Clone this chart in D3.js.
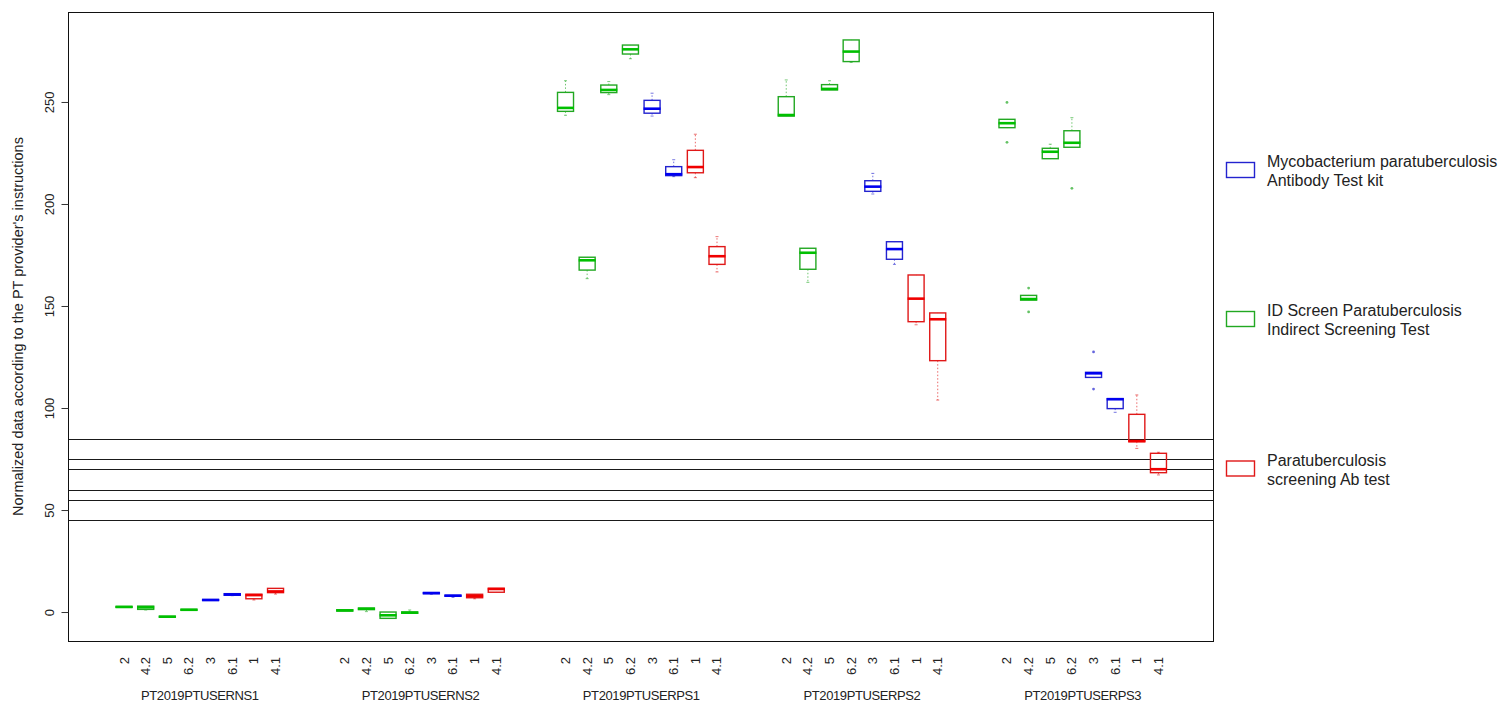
<!DOCTYPE html>
<html>
<head>
<meta charset="utf-8">
<script src="https://cdn.jsdelivr.net/npm/d3@7"></script>
<style>
  body { margin: 0; background: #fff; }
  svg { display: block; }
  text { font-family: "Liberation Sans", Arial, sans-serif; fill: #222; }
</style>
</head>
<body>
<svg id="chart" width="1507" height="702"></svg>
<script>
// PT panels and the assays run on each of them
const panels = ["PT2019PTUSERNS1", "PT2019PTUSERNS2", "PT2019PTUSERPS1", "PT2019PTUSERPS2", "PT2019PTUSERPS3"];
const assays = ["2", "4.2", "5", "6.2", "3", "6.1", "1", "4.1"];
// kit used by each assay (index into kits)
const assayKit = [1, 1, 1, 1, 0, 0, 2, 2];
const kits = [
  ["Mycobacterium paratuberculosis", "Antibody Test kit"],
  ["ID Screen Paratuberculosis", "Indirect Screening Test"],
  ["Paratuberculosis", "screening Ab test"]
];
const kitColors = ["#2323cf", "#22a822", "#e01818"];
const medianColors = ["#0000f0", "#00c000", "#f00000"];

// cut-off levels of the kits
const cutoffs = [85, 75, 70, 60, 55, 45];
const yTicks = [0, 50, 100, 150, 200, 250];

// per assay: [lower whisker, Q1, median, Q3, upper whisker]
const statsNS1 = [
  [2.3, 2.3, 2.5, 2.7, 2.7],
  [1.0, 1.3, 2.3, 2.9, 2.9],
  [-2.5, -2.5, -2.3, -2.1, -2.1],
  [0.9, 0.9, 1.1, 1.3, 1.3],
  [5.7, 5.7, 5.9, 6.1, 6.1],
  [8.0, 8.2, 8.6, 9.0, 9.0],
  [5.9, 6.5, 8.3, 8.7, 8.7],
  [8.8, 9.5, 10.1, 11.6, 11.6]
];
const statsNS2 = [
  [0.5, 0.5, 0.8, 1.1, 1.1],
  [0.2, 1.2, 1.6, 1.9, 1.9],
  [-3.1, -3.1, -1.6, 0.0, 0.0],
  [-0.6, -0.6, -0.3, 0.0, 1.0],
  [8.7, 9.0, 9.3, 9.5, 9.5],
  [7.2, 7.8, 8.0, 8.2, 8.2],
  [6.5, 7.0, 7.8, 8.7, 8.7],
  [9.7, 9.7, 11.3, 11.6, 11.6]
];
const statsPS1 = [
  [243.5, 245.4, 247.1, 254.7, 260.4],
  [163.4, 167.6, 172.4, 173.9, 173.9],
  [253.6, 254.6, 255.9, 258.3, 260.0],
  [271.2, 273.5, 275.8, 277.9, 277.9],
  [243.1, 244.5, 246.7, 250.8, 254.3],
  [213.4, 213.9, 214.6, 218.3, 221.7],
  [212.9, 215.3, 218.1, 226.3, 234.2],
  [166.7, 170.4, 174.4, 179.1, 184.0]
];
const statsPS2 = [
  [243.1, 243.1, 243.6, 252.6, 260.8],
  [161.6, 168.0, 176.1, 178.3, 178.3],
  [255.9, 255.9, 256.4, 258.5, 260.4],
  [269.4, 269.8, 274.7, 280.4, 280.4],
  [204.9, 206.2, 208.5, 211.4, 215.0],
  [170.4, 172.9, 177.9, 181.5, 181.5],
  [140.8, 142.3, 153.6, 165.2, 165.2],
  [103.9, 123.2, 143.5, 146.6, 146.6]
];
const statsPS3 = [
  [237.4, 237.4, 239.6, 241.5, 241.5],
  [152.9, 152.9, 153.4, 155.2, 155.2],
  [222.2, 222.2, 225.6, 227.3, 229.3],
  [227.8, 227.8, 230.0, 235.9, 242.3],
  [115.0, 115.0, 117.0, 117.5, 117.5],
  [97.9, 99.7, 104.3, 104.6, 104.6],
  [80.2, 83.5, 83.8, 96.9, 106.4],
  [67.2, 68.3, 70.0, 77.8, 78.3]
];
// outlying results per assay
const outliersNS1 = [[], [], [], [], [], [], [], []];
const outliersNS2 = [[], [], [], [], [], [], [], []];
const outliersPS1 = [[], [], [], [], [], [], [], []];
const outliersPS2 = [[], [], [], [], [], [], [], []];
const outliersPS3 = [[249.8, 230.2], [158.8, 147.1], [], [207.7], [127.5, 109.3], [], [], []];

const panelStats = [statsNS1, statsNS2, statsPS1, statsPS2, statsPS3];
const panelOutliers = [outliersNS1, outliersNS2, outliersPS1, outliersPS2, outliersPS3];

const yLabel = "Normalized data according to the PT provider's instructions";

// ---- layout ----
const plot = { left: 68, right: 1213, top: 12, bottom: 641 };
const groupStep = 10.2;     // slot distance between panels
const boxHalf = 0.37;       // half box width in slot units

const x = d3.scaleLinear().domain([-2.59, 50.32]).range([plot.left, plot.right]);
const y = d3.scaleLinear().domain([-14.2, 294.1]).range([plot.bottom, plot.top]);

const boxes = [];
panels.forEach((p, g) => {
  assays.forEach((a, i) => {
    const s = panelStats[g][i];
    boxes.push({
      panel: p, assay: a, pos: g * groupStep + i, kit: assayKit[i],
      lo: s[0], q1: s[1], med: s[2], q3: s[3], hi: s[4],
      out: panelOutliers[g][i]
    });
  });
});

const svg = d3.select("#chart");

// cut-off lines across the plot
svg.append("g").selectAll("line").data(cutoffs).join("line")
  .attr("x1", plot.left).attr("x2", plot.right)
  .attr("y1", d => Math.round(y(d)) + 0.5).attr("y2", d => Math.round(y(d)) + 0.5)
  .attr("stroke", "#1a1a1a").attr("stroke-width", 1);

// boxes
const bg = svg.append("g");
const bx = bg.selectAll("g.box").data(boxes).join("g").attr("class", "box");

// whiskers (dashed)
bx.append("line")
  .attr("x1", d => x(d.pos)).attr("x2", d => x(d.pos))
  .attr("y1", d => y(d.q3)).attr("y2", d => y(d.hi))
  .attr("stroke", d => kitColors[d.kit]).attr("stroke-opacity", 0.65)
  .attr("stroke-width", 1).attr("stroke-dasharray", "1.5,2");
bx.append("line")
  .attr("x1", d => x(d.pos)).attr("x2", d => x(d.pos))
  .attr("y1", d => y(d.q1)).attr("y2", d => y(d.lo))
  .attr("stroke", d => kitColors[d.kit]).attr("stroke-opacity", 0.65)
  .attr("stroke-width", 1).attr("stroke-dasharray", "1.5,2");
// short staples at the whisker ends
bx.filter(d => d.hi > d.q3).append("line")
  .attr("x1", d => x(d.pos) - 1.5).attr("x2", d => x(d.pos) + 1.5)
  .attr("y1", d => y(d.hi)).attr("y2", d => y(d.hi))
  .attr("stroke", d => kitColors[d.kit]).attr("stroke-opacity", 0.6);
bx.filter(d => d.lo < d.q1).append("line")
  .attr("x1", d => x(d.pos) - 1.5).attr("x2", d => x(d.pos) + 1.5)
  .attr("y1", d => y(d.lo)).attr("y2", d => y(d.lo))
  .attr("stroke", d => kitColors[d.kit]).attr("stroke-opacity", 0.6);

// interquartile box
bx.append("rect")
  .attr("x", d => x(d.pos - boxHalf))
  .attr("y", d => y(d.q3))
  .attr("width", d => x(d.pos + boxHalf) - x(d.pos - boxHalf))
  .attr("height", d => Math.max(0.5, y(d.q1) - y(d.q3)))
  .attr("fill", "none")
  .attr("stroke", d => kitColors[d.kit]).attr("stroke-width", 1.4);

// median
bx.append("line")
  .attr("x1", d => x(d.pos - boxHalf) - 0.5).attr("x2", d => x(d.pos + boxHalf) + 0.5)
  .attr("y1", d => y(d.med)).attr("y2", d => y(d.med))
  .attr("stroke", d => medianColors[d.kit]).attr("stroke-width", 2.6);

// outliers
bx.selectAll("circle").data(d => d.out.map(v => ({ v, pos: d.pos, kit: d.kit }))).join("circle")
  .attr("cx", d => x(d.pos)).attr("cy", d => y(d.v)).attr("r", 1.4)
  .attr("fill", d => kitColors[d.kit]).attr("fill-opacity", 0.7);

// frame
svg.append("rect")
  .attr("x", plot.left + 0.5).attr("y", plot.top + 0.5)
  .attr("width", plot.right - plot.left).attr("height", plot.bottom - plot.top)
  .attr("fill", "none").attr("stroke", "#111").attr("stroke-width", 1);

// y axis
const yAxis = d3.axisLeft(y).tickValues(yTicks).tickSize(7).tickFormat(d3.format("d"));
const ya = svg.append("g").attr("transform", `translate(${plot.left + 0.5},0)`).call(yAxis);
ya.select(".domain").remove();
ya.selectAll(".tick line").attr("stroke", "#333");
ya.selectAll(".tick text")
  .attr("x", 0).attr("dy", 0)
  .attr("transform", "translate(-15,0) rotate(-90)")
  .attr("text-anchor", "middle")
  .attr("font-size", 13).attr("fill", "#333")
  .style("font-family", '"Liberation Sans", Arial, sans-serif');

// y title
svg.append("text")
  .attr("transform", `translate(23,${(plot.top + plot.bottom) / 2}) rotate(-90)`)
  .attr("text-anchor", "middle").attr("font-size", 14.5)
  .text(yLabel);

// x tick labels (assay ids), rotated
svg.append("g").selectAll("text").data(boxes).join("text")
  .attr("transform", d => `translate(${x(d.pos) + 4.5},${plot.bottom + 16}) rotate(-90)`)
  .attr("text-anchor", "end").attr("font-size", 13)
  .text(d => d.assay);

// panel labels
svg.append("g").selectAll("text").data(panels).join("text")
  .attr("x", (d, g) => x(g * groupStep + 3.5))
  .attr("y", 700)
  .attr("text-anchor", "middle").attr("font-size", 13)
  .attr("letter-spacing", -0.4)
  .text(d => d);

// legend
const legendY = [170, 319, 468.5];
const lg = svg.append("g").selectAll("g").data(kits).join("g")
  .attr("transform", (d, k) => `translate(1226,${legendY[k]})`);
lg.append("rect")
  .attr("x", 0.5).attr("y", -7.5).attr("width", 28).attr("height", 15)
  .attr("fill", "none").attr("stroke", (d, k) => kitColors[k]).attr("stroke-width", 1.4);
lg.append("text")
  .attr("x", 41).attr("y", -3).attr("font-size", 16)
  .text(d => d[0]);
lg.append("text")
  .attr("x", 41).attr("y", 16).attr("font-size", 16)
  .text(d => d[1]);
</script>
</body>
</html>
